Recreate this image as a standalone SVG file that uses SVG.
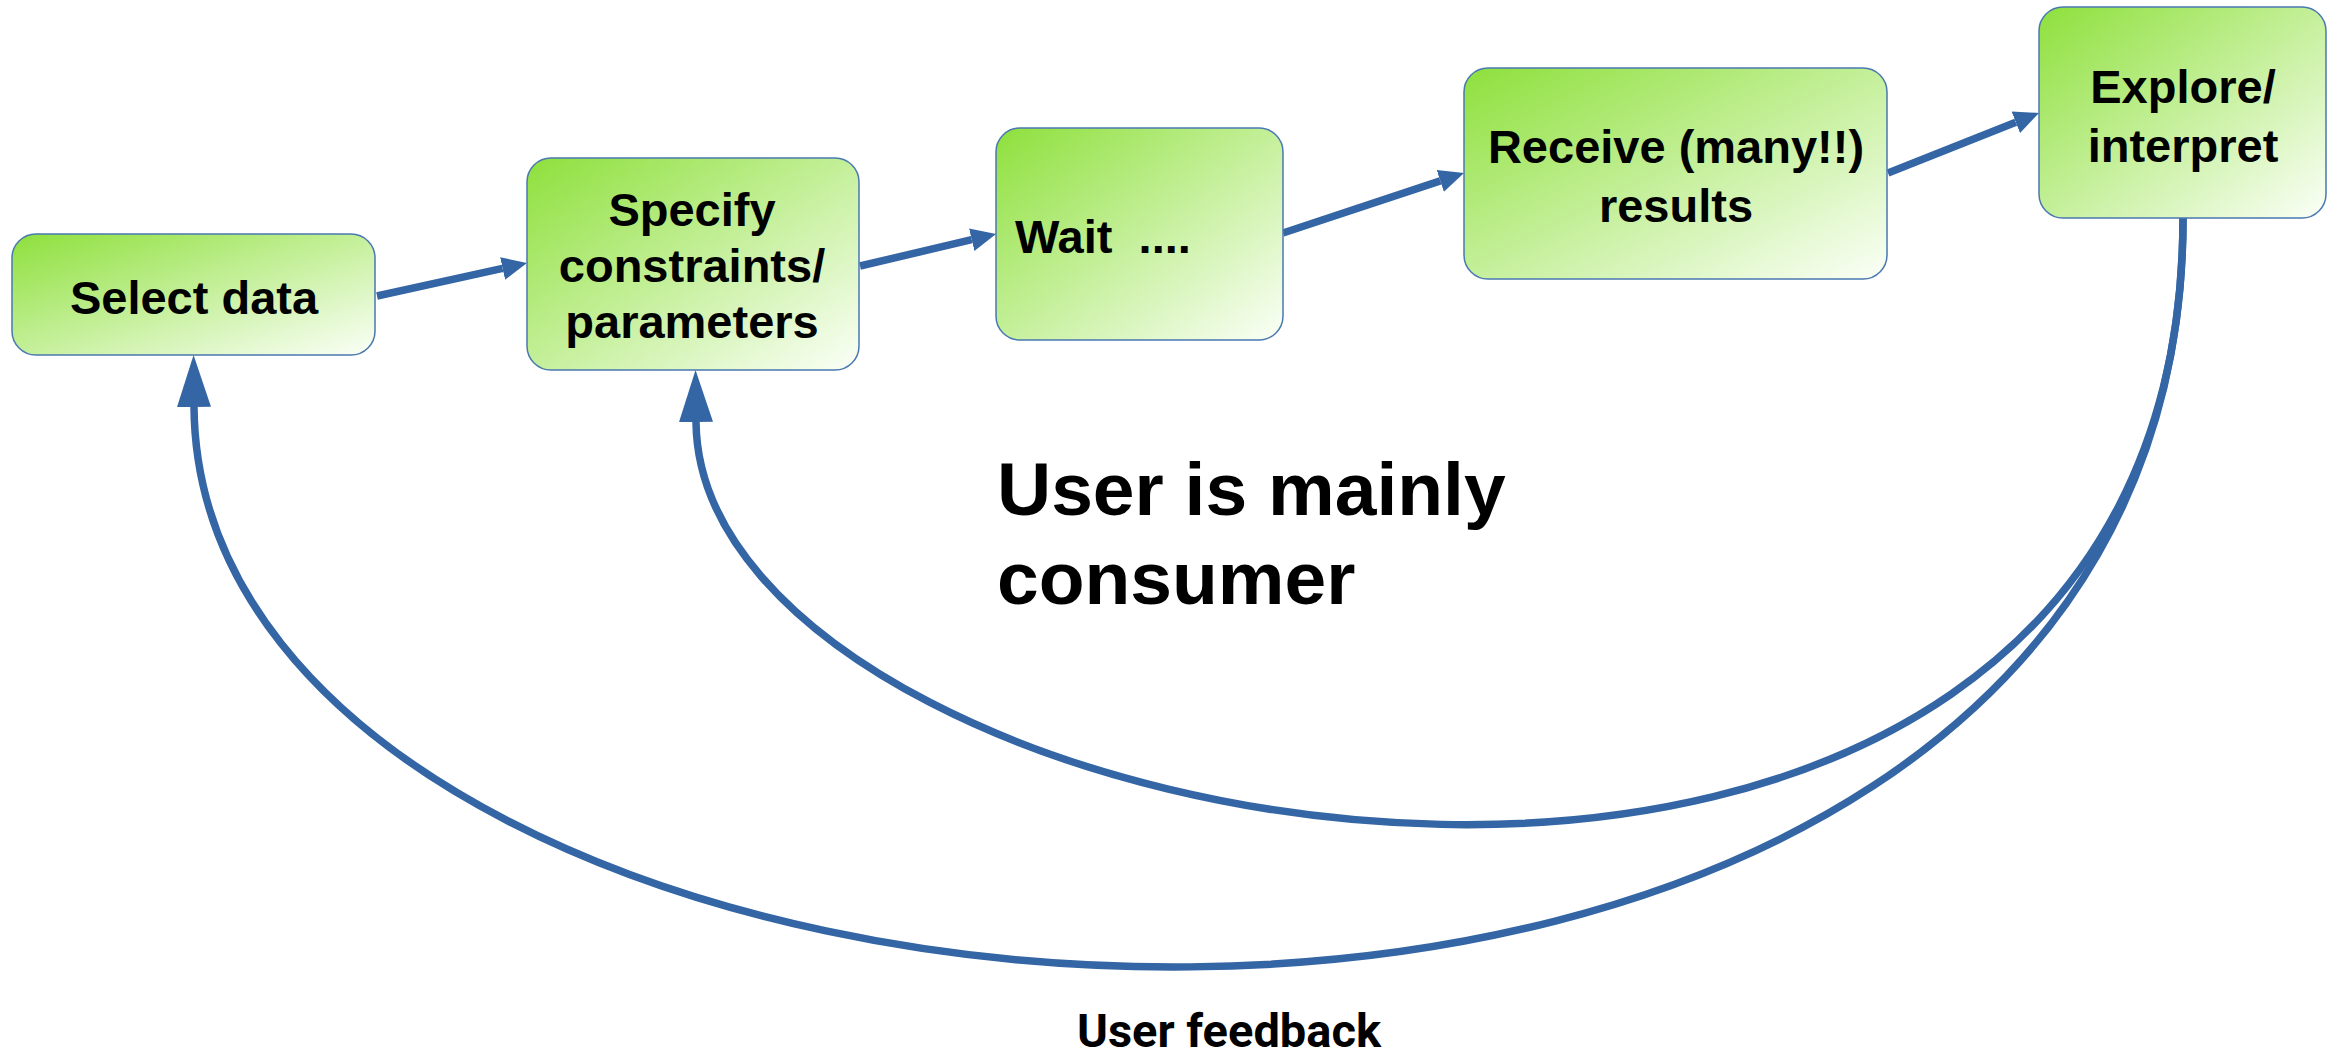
<svg xmlns="http://www.w3.org/2000/svg" width="2337" height="1054" viewBox="0 0 2337 1054">
<style>
.box{stroke:#4a78b0;stroke-width:1.5;fill:url(#g)}
.t{font-family:"Liberation Sans",Arial,sans-serif;font-weight:bold;font-size:47px;fill:#000;text-anchor:middle}
.big{font-family:"Liberation Sans",Arial,sans-serif;font-weight:bold;font-size:75px;fill:#000}
.fb{font-family:Roboto,"Liberation Sans",sans-serif;font-weight:bold;font-size:47px;fill:#000;text-anchor:middle}
.c{fill:none;stroke:#3465a4;stroke-width:7.5}
</style>
<defs>
<linearGradient id="g" x1="0" y1="0" x2="1" y2="1">
<stop offset="0" stop-color="#8ee03c"/>
<stop offset="1" stop-color="#fbfff8"/>
</linearGradient>
<marker id="a" markerUnits="userSpaceOnUse" markerWidth="30" markerHeight="30" refX="0" refY="15" orient="auto" viewBox="0 0 30 30">
<path d="M0,3.5 L25,15 L0,26.5 z" fill="#3465a4"/>
</marker>
<marker id="A" markerUnits="userSpaceOnUse" markerWidth="56" markerHeight="40" refX="0" refY="20" orient="auto" viewBox="0 0 56 40">
<path d="M0,3 L52,20 L0,37 z" fill="#3465a4"/>
</marker>
</defs>
<rect width="2337" height="1054" fill="#fff"/>
<g id="connectors">
<path class="c" d="M377,296 L502.6,268.4" marker-end="url(#a)"/>
<path class="c" d="M860,266 L971.7,239.7" marker-end="url(#a)"/>
<path class="c" d="M1283,233 L1440.3,180.9" marker-end="url(#a)"/>
<path class="c" d="M1888,173 L2015.8,122.2" marker-end="url(#a)"/>
<path class="c" d="M2183,218 C2183,1125 700,860 696,422" marker-end="url(#A)"/>
<path class="c" d="M2183,218 C2183,1260 200,1110 194,407" marker-end="url(#A)"/>
</g>
<g id="select-data">
<rect class="box" x="12" y="234" width="363" height="121" rx="24"/>
<text class="t" x="194" y="314">Select data</text>
</g>
<g id="specify">
<rect class="box" x="527" y="158" width="332" height="212" rx="24"/>
<text class="t" x="692" y="226">Specify</text>
<text class="t" x="692" y="282">constraints/</text>
<text class="t" x="692" y="338">parameters</text>
</g>
<g id="wait">
<rect class="box" x="996" y="128" width="287" height="212" rx="24"/>
<text class="t" x="1015" y="253" style="text-anchor:start" xml:space="preserve">Wait  ....</text>
</g>
<g id="receive">
<rect class="box" x="1464" y="68" width="423" height="211" rx="24"/>
<text class="t" x="1676" y="163">Receive (many!!)</text>
<text class="t" x="1676" y="222">results</text>
</g>
<g id="explore">
<rect class="box" x="2039" y="7" width="287" height="211" rx="24"/>
<text class="t" x="2183" y="103">Explore/</text>
<text class="t" x="2183" y="162">interpret</text>
</g>
<g id="label-consumer">
<text class="big" x="997" y="515">User is mainly</text>
<text class="big" x="997" y="604">consumer</text>
</g>
<g id="label-feedback">
<text class="fb" x="1229" y="1047">User feedback</text>
</g>
</svg>
